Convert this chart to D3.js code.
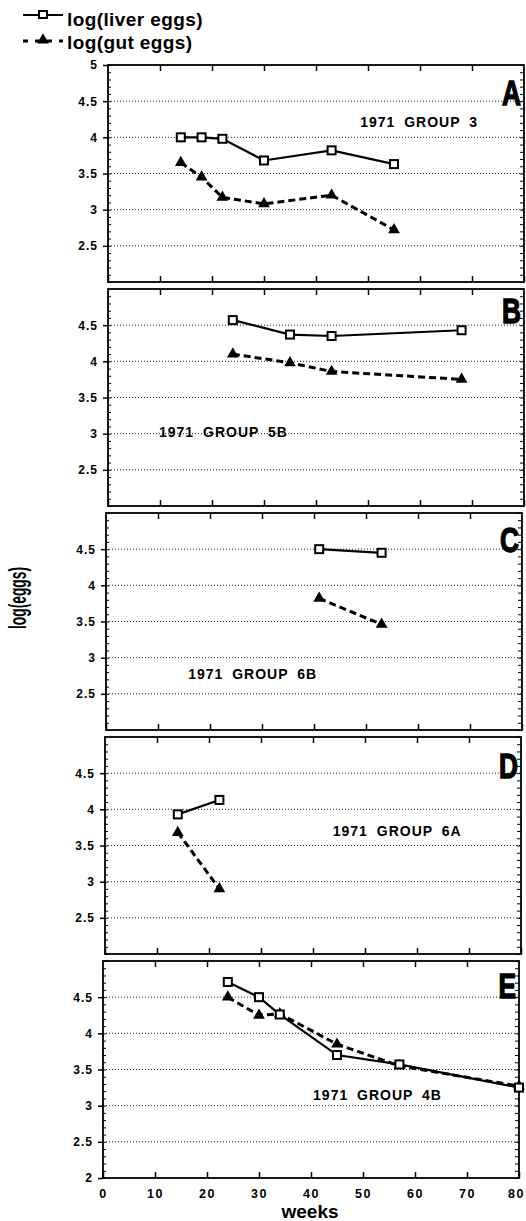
<!DOCTYPE html>
<html>
<head>
<meta charset="utf-8">
<script src="https://cdn.jsdelivr.net/npm/d3@7"></script>
<style>
  body { margin: 0; background: #fff; }
  text { font-family: 'Liberation Sans', Arial, sans-serif; font-weight: bold; fill: #000; }
</style>
</head>
<body>
<script>
// ---- data ----
const panelIds = ['A', 'B', 'C', 'D', 'E']
const groupNames = ['1971 GROUP 3', '1971 GROUP 5B', '1971 GROUP 6B', '1971 GROUP 6A', '1971 GROUP 4B']

const weeksA = [14, 18, 22, 30, 43, 55]
const liverA = [4.0, 4.0, 3.98, 3.68, 3.82, 3.63]
const gutA = [3.65, 3.45, 3.17, 3.08, 3.2, 2.72]

const weeksB = [24, 35, 43, 68]
const liverB = [4.57, 4.37, 4.35, 4.43]
const gutB = [4.1, 3.98, 3.86, 3.75]

const weeksC = [41, 53]
const liverC = [4.5, 4.45]
const gutC = [3.82, 3.46]

const weeksD = [14, 22]
const liverD = [3.93, 4.13]
const gutD = [3.68, 2.9]

const weeksE = [24, 30, 34, 45, 57, 80]
const liverE = [4.71, 4.5, 4.26, 3.7, 3.57, 3.25]
const gutE = [4.5, 4.25, 4.27, 3.85, 3.55, 3.27]

const xTicks = [0, 10, 20, 30, 40, 50, 60, 70, 80]
const yTicks = [2.5, 3, 3.5, 4, 4.5]
const legendNames = ['log(liver  eggs)', 'log(gut eggs)']

const weeks = [weeksA, weeksB, weeksC, weeksD, weeksE]
const liver = [liverA, liverB, liverC, liverD, liverE]
const gut = [gutA, gutB, gutC, gutD, gutE]

// ---- layout ----
const width = 526, height = 1221
const left = 103, right = 519
const panelTop = 65, panelH = 217, panelStep = 224
const shift = [5, 5, 3, 2, 0]           // scanned panels sit a few px apart
const labelAt = [[48.5, 4.14], [9.8, 2.95], [15.8, 2.70], [43.8, 3.63], [40.4, 3.08]]
const letterDy = [40, 34, 39, 41, 37]

const svg = d3.select('body').append('svg')
    .attr('width', width)
    .attr('height', height)
    .style('background', '#fff')

panelIds.forEach((id, i) => {
    const top = panelTop + i * panelStep
    const x = d3.scaleLinear().domain([0, 80]).range([left + shift[i], right + shift[i]])
    const y = d3.scaleLinear().domain([2, 5]).range([top + panelH, top])
    const g = svg.append('g')
    const x0 = x(0), x1 = x(80)
    const last = i === panelIds.length - 1

    // dotted grid
    g.selectAll('.grid')
        .data(yTicks)
        .enter().append('line')
        .attr('x1', x0).attr('x2', x1)
        .attr('y1', d => y(d)).attr('y2', d => y(d))
        .style('stroke', '#222')
        .style('stroke-width', 1)
        .style('stroke-dasharray', '1,2')

    // left axis: labels + minor ticks inside
    let labels = yTicks.slice()
    if (i === 0) labels.push(5)
    if (last) labels.unshift(2)
    const la = g.append('g')
        .attr('transform', `translate(${x0},0)`)
        .call(d3.axisLeft(y).tickValues(labels).tickSize(5).tickPadding(5)
            .tickFormat(d => Number.isInteger(d) ? d : d3.format('.1f')(d)))
    la.select('.domain').remove()
    la.selectAll('text').style('font-size', '12px').style('letter-spacing', '1px')
    la.selectAll('line').style('stroke-width', 1.5)

    const minor = d3.range(20, 51).map(d => d / 10)
    g.append('g')
        .attr('transform', `translate(${x0},0)`)
        .call(d3.axisLeft(y).tickValues(minor).tickSize(-3).tickFormat(''))
        .call(s => s.select('.domain').remove())
    g.append('g')
        .attr('transform', `translate(${x1},0)`)
        .call(d3.axisRight(y).tickValues(minor).tickSize(-4).tickFormat(''))
        .call(s => s.select('.domain').remove())

    // top and bottom ticks pointing inward
    g.append('g')
        .attr('transform', `translate(0,${top})`)
        .call(d3.axisTop(x).tickValues(xTicks.slice(1, -1)).tickSize(-6).tickFormat(''))
        .call(s => s.select('.domain').remove())
        .selectAll('line').style('stroke-width', 1.5)
    const bx = g.append('g')
        .attr('transform', `translate(0,${top + panelH})`)
        .call(d3.axisBottom(x).tickValues(xTicks).tickSize(-6).tickPadding(11)
            .tickFormat(last ? d3.format('d') : ''))
    bx.select('.domain').remove()
    bx.selectAll('line').style('stroke-width', 1.5)
    bx.selectAll('text')
        .style('font-size', '12.5px')
        .style('letter-spacing', '1.5px')
        .attr('dx', d => d === 80 ? -3 : 0)

    // frame
    g.append('rect')
        .attr('x', x0).attr('y', top)
        .attr('width', x1 - x0).attr('height', panelH)
        .style('fill', 'none')
        .style('stroke', '#000')
        .style('stroke-width', 1.8)

    // series
    const pts = (vals) => weeks[i].map((w, k) => [w, vals[k]])
    const line = d3.line().x(d => x(d[0])).y(d => y(d[1]))

    g.append('path')
        .datum(pts(gut[i]))
        .attr('d', line)
        .style('fill', 'none')
        .style('stroke', '#000')
        .style('stroke-width', 3)
        .style('stroke-dasharray', '7,4')
    g.append('path')
        .datum(pts(liver[i]))
        .attr('d', line)
        .style('fill', 'none')
        .style('stroke', '#000')
        .style('stroke-width', 2.2)

    g.selectAll('.tri')
        .data(pts(gut[i]))
        .enter().append('path')
        .attr('transform', d => `translate(${x(d[0])},${y(d[1])})`)
        .attr('d', d3.symbol(d3.symbolTriangle, 60))
        .style('fill', '#000')
    g.selectAll('.sq')
        .data(pts(liver[i]))
        .enter().append('rect')
        .attr('x', d => x(d[0]) - 4)
        .attr('y', d => y(d[1]) - 4)
        .attr('width', 8).attr('height', 8)
        .style('fill', '#fff')
        .style('stroke', '#000')
        .style('stroke-width', 2)

    // group name and panel letter
    g.append('text')
        .attr('x', x(labelAt[i][0]))
        .attr('y', y(labelAt[i][1]))
        .style('font-size', '14px')
        .style('letter-spacing', '1px')
        .style('word-spacing', '4px')
        .text(groupNames[i])
    g.append('text')
        .attr('transform', `translate(${x1 - 3},${top + letterDy[i]}) scale(0.75,1)`)
        .attr('text-anchor', 'end')
        .style('font-family', "'Liberation Sans Narrow', 'Liberation Sans', sans-serif")
        .style('font-size', '35px')
        .style('stroke', '#000')
        .style('stroke-width', 1.4)
        .text(id)
})

// legend
const legend = svg.append('g')
legend.selectAll('text')
    .data(legendNames)
    .enter().append('text')
    .attr('x', 67)
    .attr('y', (d, k) => 26 + k * 23)
    .style('font-size', '19px')
    .style('letter-spacing', '0.4px')
    .text(d => d)
legend.append('line')
    .attr('x1', 23).attr('x2', 63).attr('y1', 15).attr('y2', 15)
    .style('stroke', '#000').style('stroke-width', 2.2)
legend.append('rect')
    .attr('x', 39).attr('y', 11).attr('width', 8).attr('height', 7)
    .style('fill', '#fff').style('stroke', '#000').style('stroke-width', 2)
legend.append('line')
    .attr('x1', 23).attr('x2', 63).attr('y1', 41).attr('y2', 41)
    .style('stroke', '#000').style('stroke-width', 3)
    .style('stroke-dasharray', '5,7')
legend.append('path')
    .attr('transform', 'translate(43,40)')
    .attr('d', d3.symbol(d3.symbolTriangle, 60))
    .style('fill', '#000')

// axis titles
svg.append('text')
    .attr('transform', 'translate(26,598) rotate(-90)')
    .attr('text-anchor', 'middle')
    .attr('textLength', 62)
    .attr('lengthAdjust', 'spacingAndGlyphs')
    .style('font-size', '23px')
    .text('log(eggs)')
svg.append('text')
    .attr('x', 310)
    .attr('y', 1218)
    .attr('text-anchor', 'middle')
    .style('font-size', '19px')
    .text('weeks')
</script>
</body>
</html>
